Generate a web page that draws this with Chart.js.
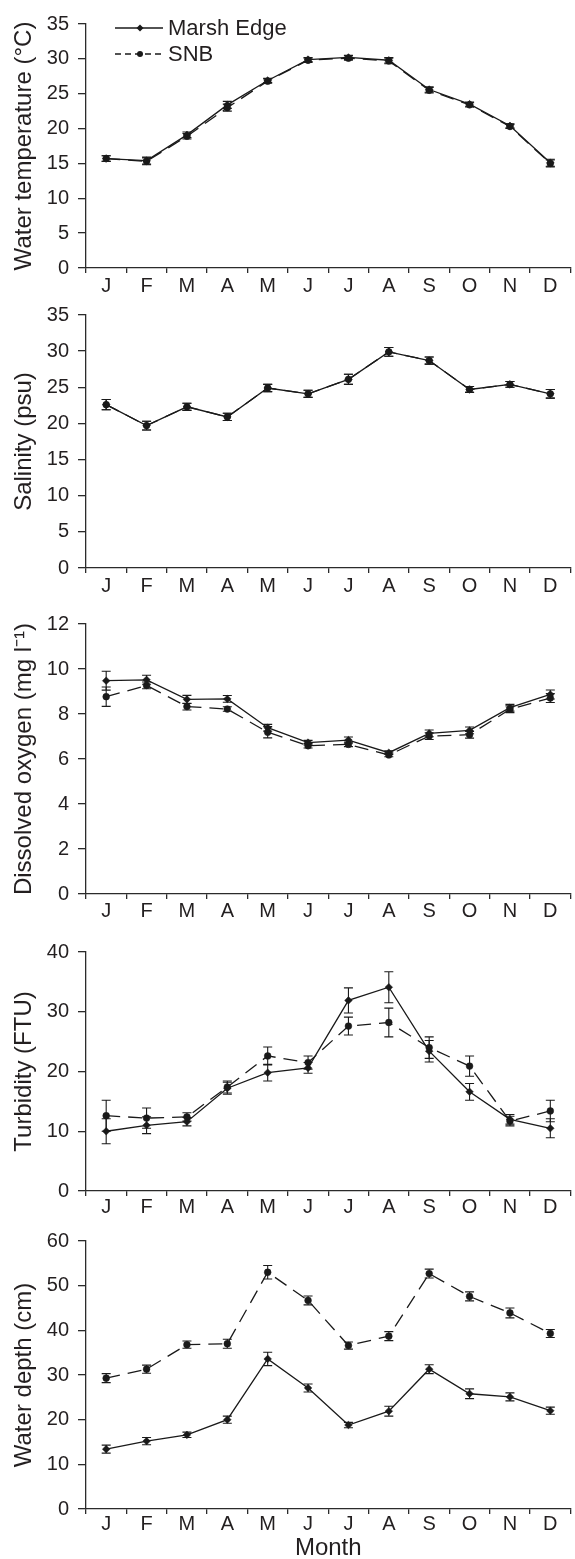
<!DOCTYPE html>
<html>
<head>
<meta charset="utf-8">
<script src="https://cdn.jsdelivr.net/npm/chart.js@4.4.1/dist/chart.umd.min.js"></script>
<style>
  html, body { margin: 0; padding: 0; background: #fff; }
  #wrap { position: relative; width: 575px; height: 1559px; overflow: hidden; }
  canvas { position: absolute; left: 0; }
</style>
</head>
<body>
<div id="wrap">
  <canvas id="c1" style="top:0px"></canvas>
  <canvas id="c2" style="top:290px"></canvas>
  <canvas id="c3" style="top:600px"></canvas>
  <canvas id="c4" style="top:910px"></canvas>
  <canvas id="c5" style="top:1200px"></canvas>
</div>
<script>
// ---------- data ----------
const months = ['J','F','M','A','M','J','J','A','S','O','N','D'];
const seriesNames = ['Marsh Edge', 'SNB'];

const tempMarsh    = [15.7, 15.4, 19.1, 23.4, 26.9, 29.9, 30.2, 29.8, 25.6, 23.5, 20.4, 15.1];
const tempMarshErr = [0.4, 0.5, 0.4, 0.5, 0.3, 0.3, 0.3, 0.4, 0.4, 0.3, 0.3, 0.5];
const tempSNB      = [15.7, 15.3, 18.9, 23.0, 26.8, 29.8, 30.1, 29.7, 25.5, 23.4, 20.3, 15.0];
const tempSNBErr   = [0.4, 0.5, 0.4, 0.5, 0.3, 0.3, 0.3, 0.4, 0.4, 0.3, 0.3, 0.5];

const salMarsh     = [22.6, 19.7, 22.3, 20.9, 24.9, 24.1, 26.1, 29.9, 28.7, 24.7, 25.4, 24.1];
const salMarshErr  = [0.7, 0.6, 0.5, 0.5, 0.5, 0.5, 0.7, 0.6, 0.5, 0.4, 0.4, 0.6];
const salSNB       = [22.6, 19.7, 22.3, 20.9, 24.9, 24.1, 26.1, 29.9, 28.7, 24.7, 25.4, 24.1];
const salSNBErr    = [0.7, 0.6, 0.5, 0.5, 0.5, 0.5, 0.7, 0.6, 0.5, 0.4, 0.4, 0.6];

const doMarsh      = [9.48, 9.52, 8.65, 8.67, 7.39, 6.73, 6.84, 6.28, 7.14, 7.27, 8.28, 8.87];
const doMarshErr   = [0.42, 0.2, 0.18, 0.15, 0.15, 0.1, 0.14, 0.08, 0.15, 0.15, 0.15, 0.2];
const doSNB        = [8.77, 9.27, 8.33, 8.22, 7.19, 6.59, 6.65, 6.18, 7.02, 7.08, 8.21, 8.71];
const doSNBErr     = [0.43, 0.15, 0.15, 0.1, 0.25, 0.1, 0.1, 0.08, 0.15, 0.15, 0.15, 0.2];

const turbMarsh    = [10.0, 11.0, 11.6, 17.2, 19.8, 20.6, 31.9, 34.1, 23.4, 16.6, 12.0, 10.5];
const turbMarshErr = [2.1, 1.4, 0.7, 1.0, 1.4, 0.9, 2.1, 2.6, 1.8, 1.4, 0.8, 1.6];
const turbSNB      = [12.6, 12.2, 12.4, 17.4, 22.6, 21.5, 27.6, 28.2, 24.0, 20.9, 11.7, 13.4];
const turbSNBErr   = [2.6, 1.7, 0.7, 1.0, 1.5, 1.1, 1.5, 2.4, 1.8, 1.7, 0.8, 1.8];

const depthMarsh    = [13.4, 15.2, 16.6, 20.0, 33.6, 27.1, 18.8, 21.9, 31.3, 25.8, 25.1, 22.0];
const depthMarshErr = [0.9, 0.8, 0.6, 0.8, 1.5, 0.9, 0.6, 1.1, 1.0, 1.1, 0.9, 0.8];
const depthSNB      = [29.3, 31.3, 36.8, 37.0, 53.0, 46.7, 36.6, 38.7, 52.7, 47.6, 43.9, 39.3];
const depthSNBErr   = [1.0, 0.9, 0.8, 1.0, 1.5, 1.0, 0.8, 1.0, 1.0, 1.0, 1.1, 0.9];

const yTitles = ['Water temperature (°C)', 'Salinity (psu)', 'Dissolved oxygen (mg l\u207B\u00B9)', 'Turbidity (FTU)', 'Water depth (cm)'];
const xTitle = 'Month';

// ---------- style ----------
const FONT = "'Liberation Sans', Arial, Helvetica, sans-serif";
const INK = '#231f20';
const AX = '#2b2b2b';
Chart.defaults.font.family = FONT;
Chart.defaults.color = INK;

const errorBars = {
  id: 'errorBars',
  afterDatasetsDraw(chart) {
    const ctx = chart.ctx, ys = chart.scales.y;
    chart.data.datasets.forEach((ds, di) => {
      if (!ds.errors) return;
      const meta = chart.getDatasetMeta(di);
      ctx.save();
      ctx.strokeStyle = '#1a1a1a';
      ctx.lineWidth = 1.1;
      ctx.setLineDash([]);
      meta.data.forEach((pt, i) => {
        const v = ds.data[i], e = ds.errors[i];
        const y1 = ys.getPixelForValue(v + e), y2 = ys.getPixelForValue(v - e), x = pt.x;
        ctx.beginPath();
        ctx.moveTo(x, y1); ctx.lineTo(x, y2);
        ctx.moveTo(x - 4.5, y1); ctx.lineTo(x + 4.5, y1);
        ctx.moveTo(x - 4.5, y2); ctx.lineTo(x + 4.5, y2);
        ctx.stroke();
      });
      ctx.restore();
    });
  }
};

const customLegend = {
  id: 'customLegend',
  afterDraw(chart, args, opts) {
    if (!opts.show) return;
    const ctx = chart.ctx;
    const x0 = 115, x1 = 163, xm = 140, tx = 168;
    const rows = [{y: 28, dash: [], style: 'rectRot'}, {y: 54, dash: [6, 4], style: 'circle'}];
    ctx.save();
    rows.forEach((r, i) => {
      ctx.strokeStyle = '#1a1a1a';
      ctx.lineWidth = 1.3;
      ctx.setLineDash(r.dash);
      ctx.beginPath(); ctx.moveTo(x0, r.y); ctx.lineTo(x1, r.y); ctx.stroke();
      ctx.setLineDash([]);
      ctx.fillStyle = '#1a1a1a';
      ctx.beginPath();
      if (r.style === 'rectRot') {
        ctx.moveTo(xm, r.y - 3.5); ctx.lineTo(xm + 3.5, r.y); ctx.lineTo(xm, r.y + 3.5); ctx.lineTo(xm - 3.5, r.y); ctx.closePath();
      } else {
        ctx.arc(xm, r.y, 3, 0, Math.PI * 2);
      }
      ctx.fill();
      ctx.fillStyle = INK;
      ctx.font = '22px ' + FONT;
      ctx.textBaseline = 'middle';
      ctx.textAlign = 'left';
      ctx.fillText(seriesNames[i], tx, r.y + 1);
    });
    ctx.restore();
  }
};

function makeChart(id, cfg) {
  const cv = document.getElementById(id);
  cv.width = 575; cv.height = cfg.height;
  cv.style.width = '575px'; cv.style.height = cfg.height + 'px';
  return new Chart(cv, {
    type: 'line',
    data: {
      labels: months,
      datasets: [
        { label: seriesNames[0], data: cfg.marsh, errors: cfg.marshErr, borderColor: '#1a1a1a', borderWidth: 1.3,
          pointStyle: 'rectRot', pointRadius: 3.8, pointBackgroundColor: '#1a1a1a', pointBorderColor: '#1a1a1a', pointBorderWidth: 0.5, tension: 0, fill: false },
        { label: seriesNames[1], data: cfg.snb, errors: cfg.snbErr, borderColor: '#1a1a1a', borderWidth: 1.3, borderDash: [14, 8],
          pointStyle: 'circle', pointRadius: 3.4, pointBackgroundColor: '#1a1a1a', pointBorderColor: '#1a1a1a', pointBorderWidth: 0.5, tension: 0, fill: false }
      ]
    },
    options: {
      responsive: false,
      animation: false,
      events: [],
      layout: { padding: { top: cfg.padTop, right: 1, bottom: 0, left: 0 } },
      scales: {
        x: {
          type: 'category',
          offset: true,
          grid: { drawOnChartArea: false, offset: true, tickLength: 5, color: AX, lineWidth: 1.3 },
          border: { display: true, color: AX, width: 1.3 },
          ticks: { padding: cfg.xPad, color: INK, font: { size: 20, lineHeight: 1 }, maxRotation: 0, autoSkip: false },
          title: { display: !!cfg.xTitle, text: cfg.xTitle || '', color: INK, font: { size: 24, lineHeight: 1 }, padding: { top: 0, bottom: 0 } },
          afterFit(s) { s.height = cfg.xHeight; }
        },
        y: {
          min: cfg.min, max: cfg.max,
          grid: { drawOnChartArea: false, tickLength: 8, color: AX, lineWidth: 1.3 },
          border: { display: true, color: AX, width: 1.3 },
          ticks: { stepSize: cfg.step, padding: 9, color: INK, font: { size: 20 } },
          title: { display: true, text: cfg.yTitle, color: INK, font: { size: 24 }, padding: { top: 10, bottom: 0 } },
          afterFit(s) { s.width = 86; }
        }
      },
      plugins: {
        legend: { display: false },
        tooltip: { enabled: false },
        customLegend: { show: !!cfg.legend }
      }
    },
    plugins: [errorBars, customLegend]
  });
}

makeChart('c1', { height: 308, padTop: 24, xHeight: 40, xPad: 3, min: 0, max: 35, step: 5, yTitle: yTitles[0],
  marsh: tempMarsh, marshErr: tempMarshErr, snb: tempSNB, snbErr: tempSNBErr, legend: true });
makeChart('c2', { height: 318, padTop: 25, xHeight: 40, xPad: 3, min: 0, max: 35, step: 5, yTitle: yTitles[1],
  marsh: salMarsh, marshErr: salMarshErr, snb: salSNB, snbErr: salSNBErr });
makeChart('c3', { height: 334, padTop: 24, xHeight: 40, xPad: 2, min: 0, max: 12, step: 2, yTitle: yTitles[2],
  marsh: doMarsh, marshErr: doMarshErr, snb: doSNB, snbErr: doSNBErr });
makeChart('c4', { height: 321, padTop: 42, xHeight: 40, xPad: 1, min: 0, max: 40, step: 10, yTitle: yTitles[3],
  marsh: turbMarsh, marshErr: turbMarshErr, snb: turbSNB, snbErr: turbSNBErr });
makeChart('c5', { height: 360, padTop: 41, xHeight: 51, xPad: 0, min: 0, max: 60, step: 10, yTitle: yTitles[4], xTitle: xTitle,
  marsh: depthMarsh, marshErr: depthMarshErr, snb: depthSNB, snbErr: depthSNBErr });
</script>
</body>
</html>
